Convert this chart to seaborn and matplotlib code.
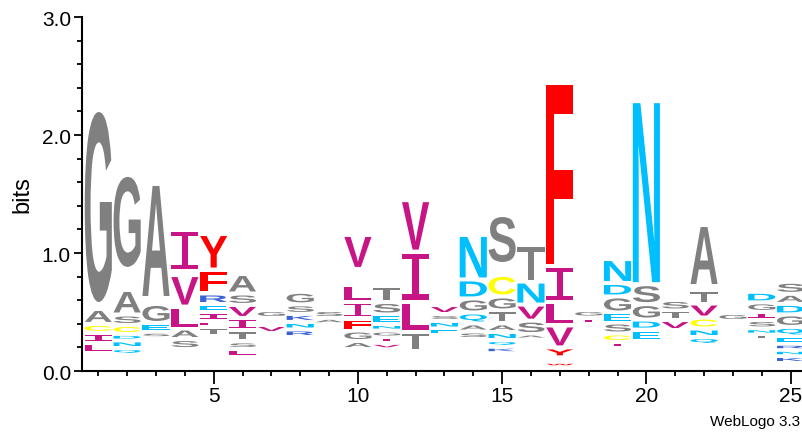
# Sequence logo (WebLogo style) rebuilt with seaborn/matplotlib
import numpy as np
import pandas as pd
import seaborn as sns
import matplotlib
matplotlib.use("Agg")
import matplotlib.pyplot as plt
from matplotlib.textpath import TextPath
from matplotlib.patches import PathPatch
from matplotlib.font_manager import FontProperties
from matplotlib.transforms import Affine2D

# Data: one stack per position, letters listed bottom -> top, heights in bits.
# A blank ' ' is the invisible share of many tiny letters between two visible ones.
positions = list(range(1, 26))

stack_base = [0.153, 0.136, 0.280, 0.186, 0.297, 0.119, 0.322, 0.288, 0.398, 0.186,
              0.186, 0.169, 0.305, 0.271, 0.153, 0.271, 0.040, 0.398, 0.195, 0.254,
              0.347, 0.220, 0.424, 0.263, 0.068]

stack_letters = ["LICA G", "QNDCSA G", "SEG A", "SALV I", "TLIERFY", "LSTIVSA", "V G",
                 "RNKSG", "AS", "AGFIL V", "VIGNEST", "TLIV", "ENSV", "SAQGDN",
                 "KQNATGC S", "ASVNT", "W YVLIF", "IG", "ICSEGDN", "EDGSN", "VTS",
                 "QNCVT A", "G", "TNSIGD", "KNREQGDAS"]

stack_heights = [
    [0.085, 0.085, 0.076, 0.127, 0.042, 1.644],
    [0.059, 0.064, 0.055, 0.076, 0.089, 0.208, 0.178, 0.797],
    [0.051, 0.076, 0.161, 0.051, 0.966],
    [0.085, 0.089, 0.186, 0.267, 0.034, 0.347],
    [0.072, 0.059, 0.072, 0.068, 0.089, 0.203, 0.301],
    [0.068, 0.064, 0.093, 0.106, 0.110, 0.097, 0.165],
    [0.068, 0.059, 0.068],
    [0.064, 0.064, 0.068, 0.081, 0.106],
    [0.051, 0.068],
    [0.068, 0.089, 0.102, 0.140, 0.144, 0.136, 0.288],
    [0.051, 0.047, 0.059, 0.055, 0.081, 0.106, 0.136],
    [0.165, 0.254, 0.424, 0.436],
    [0.055, 0.064, 0.059, 0.076],
    [0.064, 0.068, 0.093, 0.119, 0.161, 0.377],
    [0.051, 0.059, 0.068, 0.072, 0.110, 0.119, 0.182, 0.093, 0.415],
    [0.042, 0.114, 0.136, 0.195, 0.309],
    [0.030, 0.046, 0.084, 0.186, 0.203, 0.297, 1.555],
    [0.055, 0.064],
    [0.051, 0.072, 0.093, 0.085, 0.136, 0.114, 0.203],
    [0.097, 0.085, 0.131, 0.169, 1.551],
    [0.085, 0.081, 0.089],
    [0.068, 0.072, 0.093, 0.119, 0.114, 0.034, 0.517],
    [0.068],
    [0.047, 0.051, 0.072, 0.068, 0.081, 0.089],
    [0.059, 0.051, 0.051, 0.064, 0.081, 0.106, 0.089, 0.085, 0.102],
]

# residue colour groups
color_groups = {
    "#808080": "GASTP",
    "#C71585": "ILVM",
    "#FF0000": "FYW",
    "#00BFFF": "NDEQ",
    "#FFFF00": "C",
    "#3A62D8": "RKH",
}
letter_color = {aa: col for col, aas in color_groups.items() for aa in aas}

# long table of letters
rows = []
for pos, base, letters, heights in zip(positions, stack_base, stack_letters, stack_heights):
    y = base
    for aa, h in zip(letters, heights):
        rows.append({"pos": pos, "letter": aa, "bottom": y, "bits": h})
        y += h
logo = pd.DataFrame(rows)

sns.set_theme(style="ticks")
plt.rcParams['font.family'] = ['Liberation Sans', 'DejaVu Sans']
plt.rcParams['text.color'] = 'black'
plt.rcParams['axes.labelcolor'] = 'black'
plt.rcParams['xtick.color'] = 'black'
plt.rcParams['ytick.color'] = 'black'

fig = plt.figure(figsize=(8.03, 4.35), dpi=100)
ax = fig.add_axes([0.1021, 0.1448, 0.8979, 0.8138])

sans_bold = FontProperties(family="Liberation Sans", weight="bold")
mono_i = FontProperties(family="DejaVu Sans Mono", weight="normal")

col_width = 0.94
for _, r in logo.iterrows():
    if r["letter"] == " ":
        continue
    prop = mono_i if r["letter"] == "I" else sans_bold
    tp = TextPath((0, 0), r["letter"], size=1, prop=prop)
    bb = tp.get_extents()
    pad = min(0.017, 0.3 * r["bits"])
    glyph_h = r["bits"] - 2 * pad
    tr = (Affine2D()
          .translate(-bb.x0, -bb.y0)
          .scale(col_width / bb.width, glyph_h / bb.height)
          .translate(r["pos"] - col_width / 2, r["bottom"] + pad))
    ax.add_patch(PathPatch(tr.transform_path(tp), facecolor=letter_color[r["letter"]],
                           edgecolor="none", lw=0))

ax.set_xlim(0.435, 25.43)
ax.set_ylim(0, 3.0)
ax.set_yticks([0, 1, 2, 3])
ax.set_yticklabels(["0.0", "1.0", "2.0", "3.0"])
ax.set_yticks(np.arange(0, 3.01, 0.2), minor=True)
ax.set_xticks([5, 10, 15, 20, 25])
ax.set_xticks(positions, minor=True)
ax.tick_params(axis="y", which="major", length=6, width=1.3, labelsize=15, direction="out", pad=2)
ax.tick_params(axis="y", which="minor", length=3.8, width=1.3, direction="out")
ax.tick_params(axis="x", which="major", length=9, width=1.3, labelsize=15, direction="out", pad=2)
ax.tick_params(axis="x", which="minor", length=3.8, width=1.3, direction="out")
ax.set_ylabel("bits", fontsize=17, labelpad=6)
ax.set_facecolor("white")
sns.despine(ax=ax)
for s in ["left", "bottom"]:
    ax.spines[s].set_linewidth(1.5)
    ax.spines[s].set_color("black")

fig.text(0.997, 0.03, "WebLogo 3.3", ha="right", va="center", fontsize=11)

fig.savefig("out.png", dpi=100, facecolor="white")
